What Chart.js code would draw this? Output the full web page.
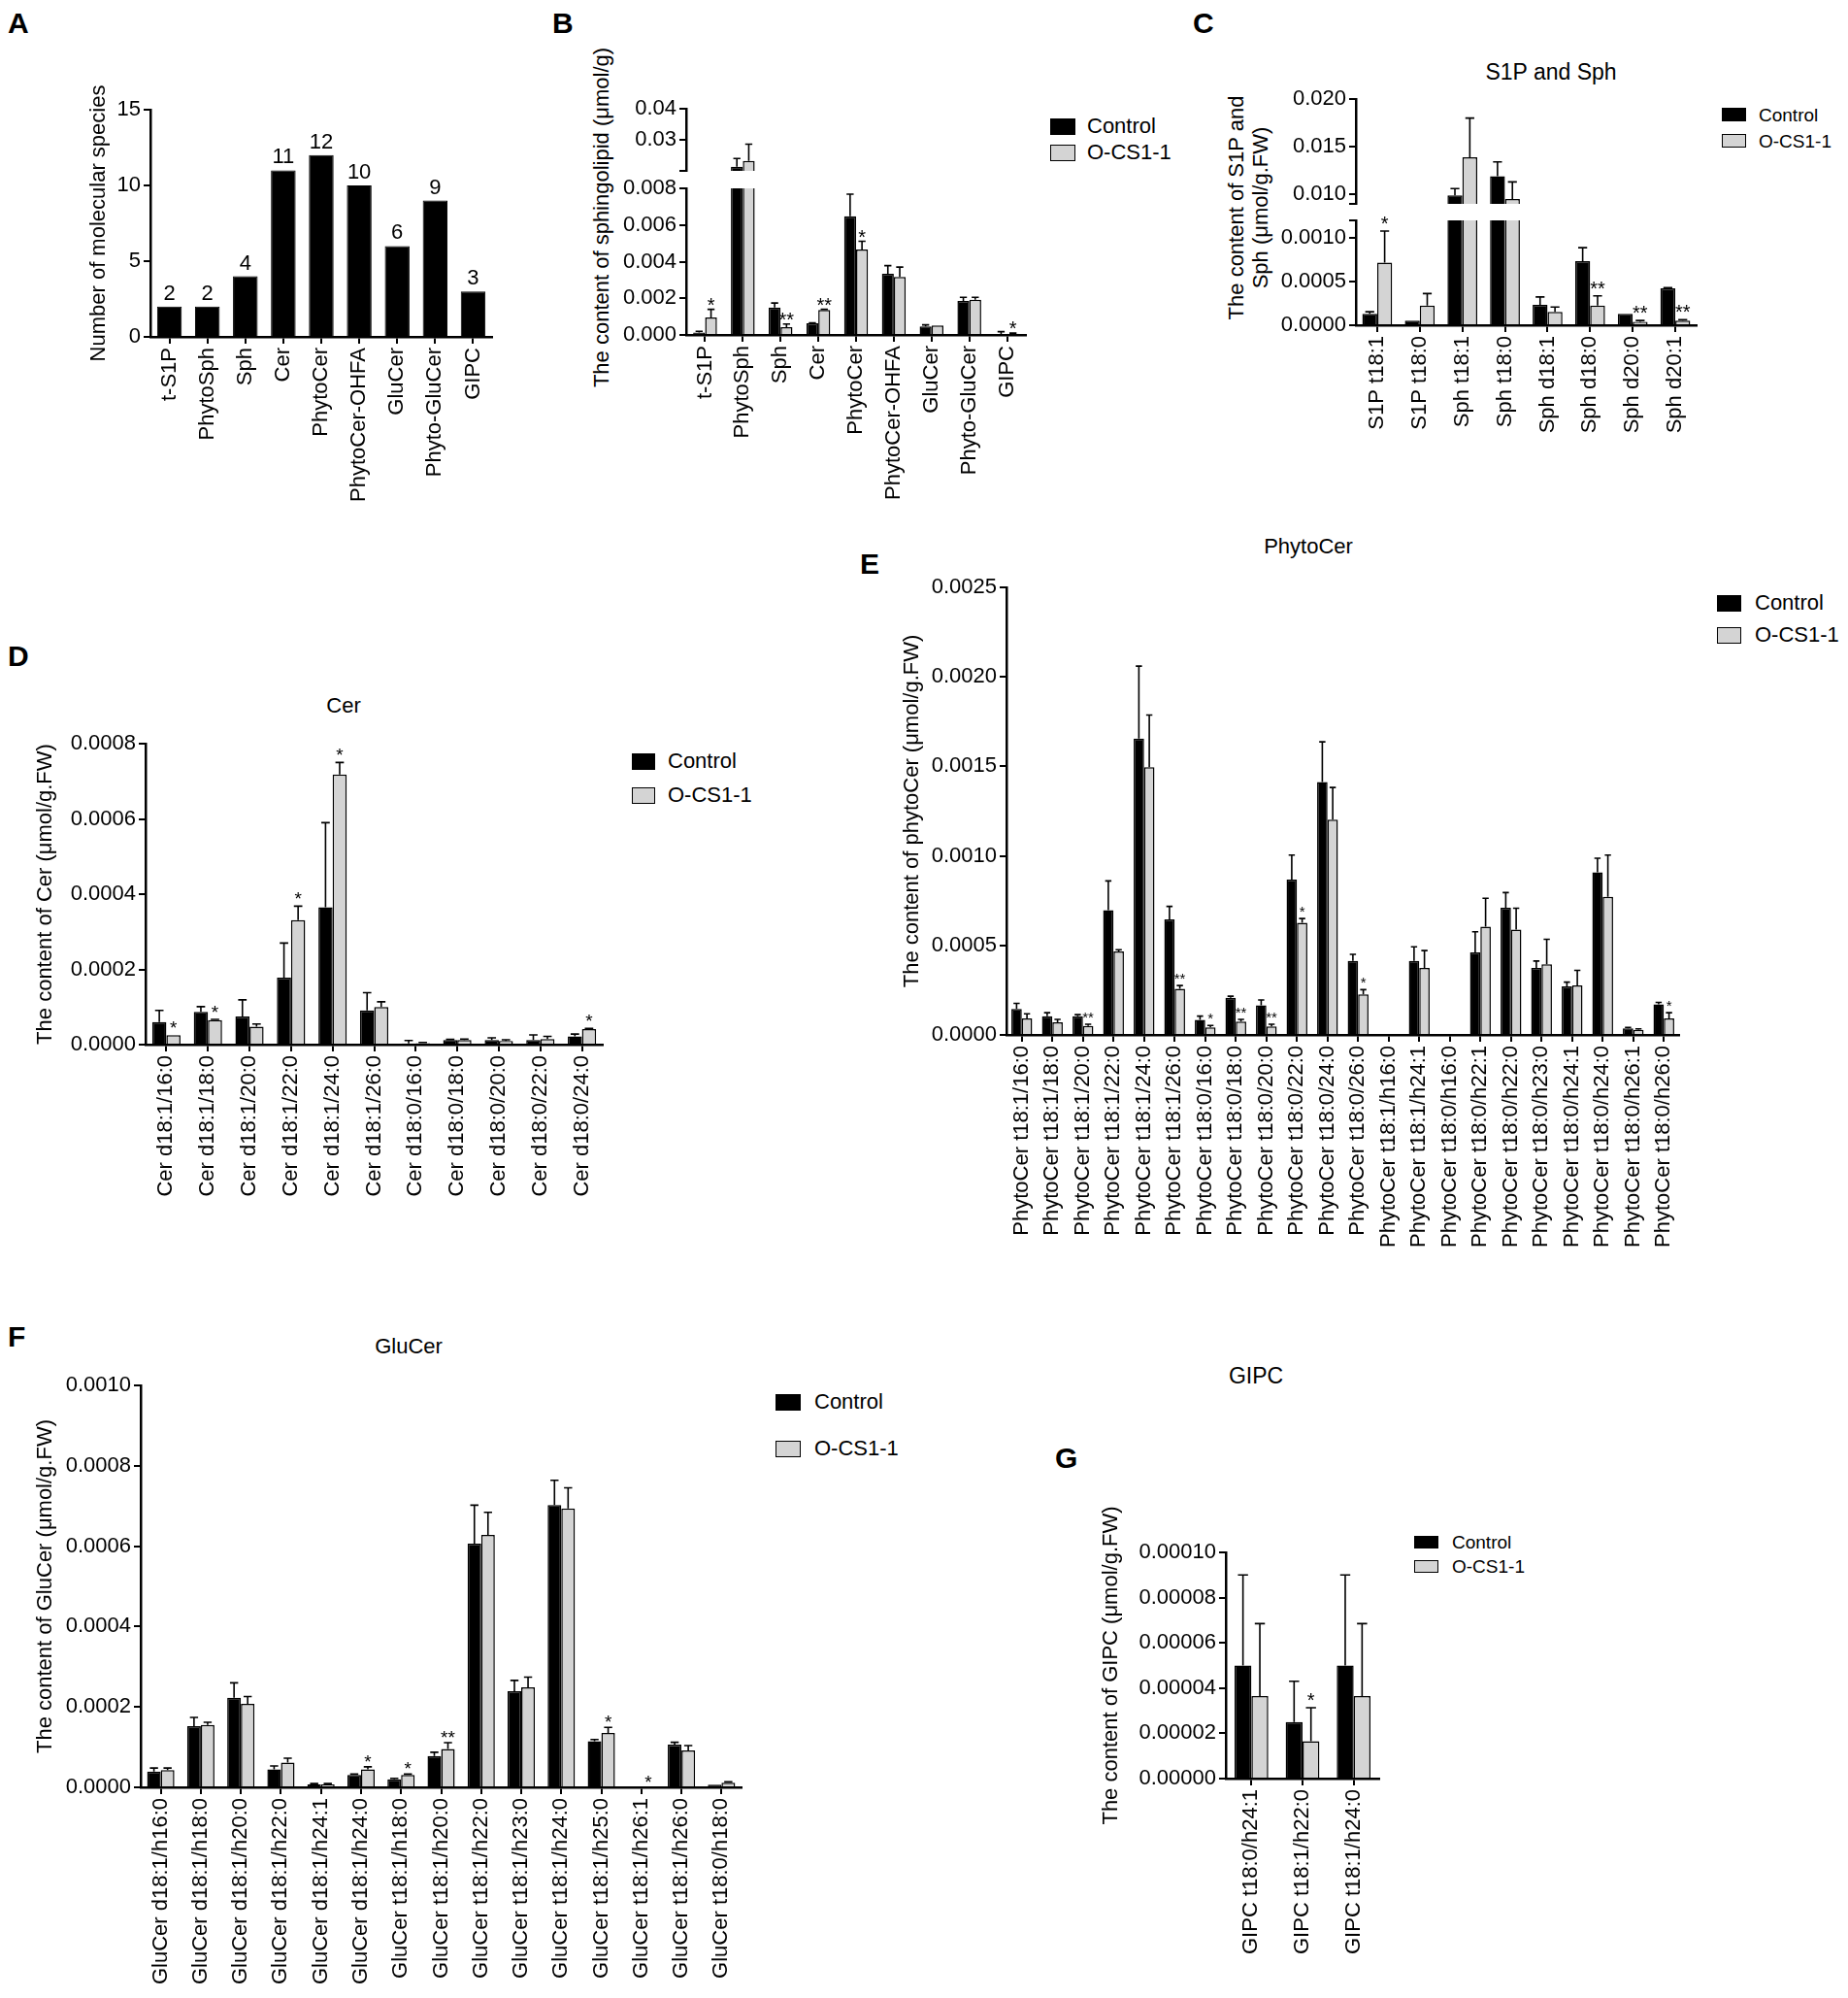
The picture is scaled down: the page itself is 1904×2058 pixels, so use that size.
<!DOCTYPE html>
<html>
<head>
<meta charset="utf-8" />
<title>Sphingolipid profiles</title>
<style>
  html, body { margin: 0; padding: 0; background: #fff; }
  #page {
    position: relative; width: 1904px; height: 2058px; overflow: hidden; background: #fff;
    font-family: "Liberation Sans", Arial, sans-serif; color: #000;
  }
  #page canvas { position: absolute; }
  .txt { position: absolute; white-space: nowrap; }
  .sq { position: absolute; box-sizing: border-box; border: 1.5px solid #000; }
</style>
</head>
<body>
<div id="page"></div>
<script src="https://cdn.jsdelivr.net/npm/chart.js@4.4.1/dist/chart.umd.min.js"></script>
<script>
// ---------- A: number of molecular species ----------
const classLabels = ['t-S1P', 'PhytoSph', 'Sph', 'Cer', 'PhytoCer', 'PhytoCer-OHFA', 'GluCer', 'Phyto-GluCer', 'GIPC'];
const speciesCounts = [2, 2, 4, 11, 12, 10, 6, 9, 3];
const speciesTicks = [0, 5, 10, 15];
const speciesTickLabels = ['0', '5', '10', '15'];

// ---------- B: total content per class (broken axis) ----------
const totalControl = [0.00013, 0.0213, 0.0015, 0.00064, 0.00648, 0.00334, 0.00046, 0.00186, 0.00005];
const totalControlSd = [0.00007, 0.0027, 0.00024, 0.00002, 0.0012, 0.00044, 0.00009, 0.00019, 0.00013];
const totalOcs = [0.00095, 0.0232, 0.00042, 0.00137, 0.00466, 0.00316, 0.00051, 0.00192, 0.00007];
const totalOcsSd = [0.00045, 0.0054, 0.00018, 0.00003, 0.00045, 0.00054, 0, 0.00013, 0.00003];
const totalStars = ['*', '', '**', '**', '*', '', '', '', '*'];
const totalTicksLow = [0, 0.002, 0.004, 0.006, 0.008];
const totalTickLabelsLow = ['0.000', '0.002', '0.004', '0.006', '0.008'];
const totalTicksHigh = [0.02, 0.03, 0.04];
const totalTickLabelsHigh = ['', '0.03', '0.04'];

// ---------- C: S1P and Sph (broken axis) ----------
const sphLabels = ['S1P t18:1', 'S1P t18:0', 'Sph t18:1', 'Sph t18:0', 'Sph d18:1', 'Sph d18:0', 'Sph d20:0', 'Sph d20:1'];
const sphControl = [0.000131, 0.000054, 0.0099, 0.0119, 0.000232, 0.000734, 0.000131, 0.000421];
const sphControlSd = [0.000023, 0, 0.0007, 0.0015, 0.000092, 0.000154, 0, 0.000008];
const sphOcs = [0.000718, 0.000224, 0.0139, 0.0095, 0.000154, 0.000224, 0.000039, 0.000054];
const sphOcsSd = [0.00036, 0.000139, 0.0041, 0.0018, 0.000054, 0.000112, 0.000015, 0.00001];
const sphStars = ['*', '', '', '', '', '**', '**', '**'];
const sphTicksLow = [0, 0.0005, 0.001, 0.0012];
const sphTickLabelsLow = ['0.0000', '0.0005', '0.0010', ''];
const sphTicksHigh = [0.009, 0.010, 0.015, 0.020];
const sphTickLabelsHigh = ['', '0.010', '0.015', '0.020'];

// ---------- D: Cer ----------
const cerLabels = ['Cer d18:1/16:0', 'Cer d18:1/18:0', 'Cer d18:1/20:0', 'Cer d18:1/22:0', 'Cer d18:1/24:0', 'Cer d18:1/26:0',
  'Cer d18:0/16:0', 'Cer d18:0/18:0', 'Cer d18:0/20:0', 'Cer d18:0/22:0', 'Cer d18:0/24:0'];
const cerControl = [0.000060, 0.000087, 0.000075, 0.000178, 0.000365, 0.000091, 0.000003, 0.000012, 0.000012, 0.000012, 0.000022];
const cerControlSd = [0.000031, 0.000014, 0.000044, 0.000092, 0.000225, 0.000047, 0.000008, 0.000002, 0.000006, 0.000014, 0.000006];
const cerOcs = [0.000025, 0.000065, 0.000048, 0.000331, 0.000718, 0.0001, 0.000004, 0.000012, 0.000010, 0.000015, 0.000041];
const cerOcsSd = [0, 0.000002, 0.000007, 0.000037, 0.000032, 0.000014, 0.000002, 0.000003, 0.000003, 0.000007, 0.000002];
const cerStars = ['*', '*', '', '*', '*', '', '', '', '', '', '*'];
const cerTicks = [0, 0.0002, 0.0004, 0.0006, 0.0008];
const cerTickLabels = ['0.0000', '0.0002', '0.0004', '0.0006', '0.0008'];

// ---------- E: PhytoCer ----------
const phytoLabels = ['PhytoCer t18:1/16:0', 'PhytoCer t18:1/18:0', 'PhytoCer t18:1/20:0', 'PhytoCer t18:1/22:0', 'PhytoCer t18:1/24:0',
  'PhytoCer t18:1/26:0', 'PhytoCer t18:0/16:0', 'PhytoCer t18:0/18:0', 'PhytoCer t18:0/20:0', 'PhytoCer t18:0/22:0',
  'PhytoCer t18:0/24:0', 'PhytoCer t18:0/26:0', 'PhytoCer t18:1/h16:0', 'PhytoCer t18:1/h24:1', 'PhytoCer t18:0/h16:0',
  'PhytoCer t18:0/h22:1', 'PhytoCer t18:0/h22:0', 'PhytoCer t18:0/h23:0', 'PhytoCer t18:0/h24:1', 'PhytoCer t18:0/h24:0',
  'PhytoCer t18:0/h26:1', 'PhytoCer t18:0/h26:0'];
const phytoControl = [0.000145, 0.000105, 0.000105, 0.000697, 0.001655, 0.000645, 0.000084, 0.000208, 0.000166, 0.000868, 0.001413,
  0.000413, 0.000005, 0.000413, 0, 0.000461, 0.000711, 0.000374, 0.000271, 0.000908, 0.000037, 0.000171];
const phytoControlSd = [0.000031, 0.000019, 0.000008, 0.000163, 0.000405, 0.000073, 0.000021, 0.000008, 0.000029, 0.000137, 0.000224,
  0.000037, 0, 0.000079, 0, 0.000115, 0.000084, 0.000039, 0.000024, 0.000079, 0.000005, 0.000011];
const phytoOcs = [0.000092, 0.000071, 0.00005, 0.000466, 0.001495, 0.000258, 0.000042, 0.000074, 0.000047, 0.000626, 0.001203,
  0.000226, 0.000005, 0.000374, 0, 0.000605, 0.000589, 0.000395, 0.000276, 0.000771, 0.000029, 0.000092];
const phytoOcsSd = [0.000026, 0.000016, 0.00001, 0.00001, 0.000292, 0.000018, 0.000011, 0.000013, 0.000013, 0.000024, 0.000179,
  0.000027, 0, 0.000097, 0, 0.000158, 0.000119, 0.000139, 0.000085, 0.000234, 0.000005, 0.000032];
const phytoStars = ['', '', '**', '', '', '**', '*', '**', '**', '*', '', '*', '', '', '', '', '', '', '', '', '', '*'];
const phytoTicks = [0, 0.0005, 0.001, 0.0015, 0.002, 0.0025];
const phytoTickLabels = ['0.0000', '0.0005', '0.0010', '0.0015', '0.0020', '0.0025'];

// ---------- F: GluCer ----------
const gluLabels = ['GluCer d18:1/h16:0', 'GluCer d18:1/h18:0', 'GluCer d18:1/h20:0', 'GluCer d18:1/h22:0', 'GluCer d18:1/h24:1',
  'GluCer d18:1/h24:0', 'GluCer t18:1/h18:0', 'GluCer t18:1/h20:0', 'GluCer t18:1/h22:0', 'GluCer t18:1/h23:0',
  'GluCer t18:1/h24:0', 'GluCer t18:1/h25:0', 'GluCer t18:1/h26:1', 'GluCer t18:1/h26:0', 'GluCer t18:0/h18:0'];
const gluControl = [0.0000394, 0.000152, 0.000223, 0.0000447, 0.0000074, 0.0000309, 0.0000202, 0.0000777, 0.000606, 0.000239,
  0.000702, 0.000115, 0, 0.000106, 0.0000064];
const gluControlSd = [0.0000085, 0.000022, 0.000037, 0.0000085, 0.000002, 0.000002, 0.000002, 0.0000095, 0.000096, 0.000027,
  0.000062, 0.000004, 0, 0.000006, 0];
const gluOcs = [0.0000426, 0.000155, 0.000208, 0.0000617, 0.0000074, 0.0000447, 0.0000309, 0.0000957, 0.000628, 0.000249,
  0.000694, 0.000135, 0, 0.0000915, 0.0000117];
const gluOcsSd = [0.0000053, 0.000007, 0.000018, 0.0000106, 0.000002, 0.0000063, 0.000002, 0.0000153, 0.000056, 0.000025,
  0.000051, 0.000014, 0, 0.0000125, 0.000002];
const gluStars = ['', '', '', '', '', '*', '*', '**', '', '', '', '*', '*', '', ''];
const gluTicks = [0, 0.0002, 0.0004, 0.0006, 0.0008, 0.001];
const gluTickLabels = ['0.0000', '0.0002', '0.0004', '0.0006', '0.0008', '0.0010'];

// ---------- G: GIPC ----------
const gipcLabels = ['GIPC t18:0/h24:1', 'GIPC t18:1/h22:0', 'GIPC t18:1/h24:0'];
const gipcControl = [0.00005, 0.000025, 0.00005];
const gipcControlSd = [0.00004, 0.000018, 0.00004];
const gipcOcs = [0.0000365, 0.0000165, 0.0000365];
const gipcOcsSd = [0.000032, 0.0000148, 0.000032];
const gipcStars = ['', '*', ''];
const gipcTicks = [0, 0.00002, 0.00004, 0.00006, 0.00008, 0.0001];
const gipcTickLabels = ['0.00000', '0.00002', '0.00004', '0.00006', '0.00008', '0.00010'];

const seriesNames = ['Control', 'O-CS1-1'];
const FONT = '"Liberation Sans", Arial, sans-serif';
const GREY = '#d4d4d4';

Chart.defaults.font.family = FONT;
Chart.defaults.font.size = 22;
Chart.defaults.color = '#000';

const page = document.getElementById('page');

function text(x, y, str, size, opts = {}) {
  const d = document.createElement('div');
  d.className = 'txt';
  d.textContent = str;
  d.style.fontSize = size + 'px';
  d.style.lineHeight = size + 'px';
  d.style.left = x + 'px';
  d.style.top = (y - size / 2) + 'px';
  if (opts.bold) d.style.fontWeight = 'bold';
  if (opts.center) d.style.transform = 'translateX(-50%)';
  page.appendChild(d);
}

function vtext(x, y, lines, size, lh) {
  const d = document.createElement('div');
  d.className = 'txt';
  d.style.fontSize = size + 'px';
  d.style.lineHeight = lh + 'px';
  d.style.textAlign = 'center';
  d.style.width = '600px';
  d.style.left = (x - 300) + 'px';
  d.style.top = (y - lines.length * lh / 2) + 'px';
  d.style.transform = 'rotate(-90deg)';
  d.style.transformOrigin = '50% 50%';
  d.innerHTML = lines.join('<br>');
  page.appendChild(d);
}

function legend(sqX, w, h, rows, textX, size) {
  [['#000', seriesNames[0]], [GREY, seriesNames[1]]].forEach(([fill, name], i) => {
    const s = document.createElement('div');
    s.className = 'sq';
    s.style.left = sqX + 'px';
    s.style.top = (rows[i] - h / 2) + 'px';
    s.style.width = w + 'px';
    s.style.height = h + 'px';
    s.style.background = fill;
    page.appendChild(s);
    text(textX, rows[i], name, size);
  });
}

// error bars (mean + SD), significance stars and value labels
function overlay(o) {
  return {
    id: 'overlay',
    afterDatasetsDraw(chart) {
      const { ctx, chartArea: a } = chart;
      const y = chart.scales.y;
      ctx.save();
      ctx.beginPath();
      ctx.rect(a.left - 30, a.top - 2, a.right - a.left + 60, a.bottom - a.top + 4);
      ctx.clip();
      ctx.strokeStyle = '#000';
      ctx.lineWidth = 1.6;
      chart.data.datasets.forEach((ds, di) => {
        if (!ds.sd) return;
        chart.getDatasetMeta(di).data.forEach((bar, i) => {
          const sd = ds.sd[i];
          if (!sd) return;
          const y0 = y.getPixelForValue(ds.data[i]);
          const y1 = y.getPixelForValue(ds.data[i] + sd);
          const half = bar.width * 0.3;
          ctx.beginPath();
          ctx.moveTo(bar.x, y0);
          ctx.lineTo(bar.x, y1);
          ctx.moveTo(bar.x - half, y1);
          ctx.lineTo(bar.x + half, y1);
          ctx.stroke();
        });
      });
      ctx.restore();

      ctx.save();
      ctx.fillStyle = '#000';
      ctx.textAlign = 'center';
      ctx.textBaseline = 'alphabetic';
      if (o.stars) {
        const ds = chart.data.datasets[1];
        const meta = chart.getDatasetMeta(1);
        ctx.font = o.starSize + 'px ' + FONT;
        o.stars.forEach((s, i) => {
          if (!s) return;
          const top = ds.data[i] + (ds.sd[i] || 0);
          if (top > y.max) return;
          ctx.fillText(s, meta.data[i].x, y.getPixelForValue(top) + o.starShift);
        });
      }
      if (o.valueLabels) {
        const ds = chart.data.datasets[0];
        ctx.font = '22px ' + FONT;
        chart.getDatasetMeta(0).data.forEach((bar, i) => {
          ctx.fillText(String(ds.data[i]), bar.x, bar.y - 7);
        });
      }
      ctx.restore();
    }
  };
}

function pairSets(ctrl, ctrlSd, ocs, ocsSd) {
  return [
    { label: seriesNames[0], data: ctrl, sd: ctrlSd, backgroundColor: '#000', borderColor: '#000', borderWidth: 1.5, clip: 0 },
    { label: seriesNames[1], data: ocs, sd: ocsSd, backgroundColor: GREY, borderColor: '#000', borderWidth: 1.5, clip: 0 }
  ];
}

// box = canvas [x, y, w, h] on the page, area = plot [left, top, right, bottom] on the page
function barChart(o) {
  const [cx, cy, cw, ch] = o.box;
  const [L, T, R, B] = o.area;
  const showX = o.showX !== false;
  const c = document.createElement('canvas');
  c.width = cw;
  c.height = ch;
  c.style.left = cx + 'px';
  c.style.top = cy + 'px';
  page.appendChild(c);

  const xScale = {
    display: showX,
    grid: { offset: false, drawOnChartArea: false, drawTicks: true, tickLength: 7, color: '#000', lineWidth: 2 },
    border: { display: true, color: '#000', width: 2.5 },
    ticks: { autoSkip: false, minRotation: 90, maxRotation: 90, padding: 4, color: '#000', font: { size: 22 } }
  };
  if (showX) xScale.afterFit = (s) => { s.height = cy + ch - B; };

  return new Chart(c, {
    type: 'bar',
    data: { labels: o.labels, datasets: o.datasets },
    options: {
      responsive: false,
      animation: false,
      devicePixelRatio: 1,
      layout: { padding: { left: 0, top: T - cy, right: cx + cw - R, bottom: showX ? 0 : cy + ch - B } },
      plugins: { legend: { display: false }, tooltip: { enabled: false } },
      datasets: { bar: { categoryPercentage: o.catPct, barPercentage: 1 } },
      scales: {
        x: xScale,
        y: {
          min: o.ticks[0],
          max: o.ticks[o.ticks.length - 1],
          afterBuildTicks: (s) => { s.ticks = o.ticks.map((v) => ({ value: v })); },
          afterFit: (s) => { s.width = L - cx; },
          ticks: { autoSkip: false, padding: 3, color: '#000', font: { size: 22 }, callback: (v, i) => o.tickLabels[i] },
          grid: { drawOnChartArea: false, drawTicks: true, tickLength: 7, color: '#000', lineWidth: 2 },
          border: { display: true, color: '#000', width: 2.5 },
          title: o.yTitle
            ? { display: true, text: o.yTitle, color: '#000', font: { size: 22 }, padding: { top: o.titleX - cx - 13.2, bottom: 0 } }
            : { display: false }
        }
      }
    },
    plugins: [overlay(o)]
  });
}

// ---------- panel A ----------
text(8, 24, 'A', 30, { bold: true });
barChart({
  box: [60, 60, 465, 480], area: [155, 113, 507, 347],
  labels: classLabels,
  datasets: [{ label: 'Number of molecular species', data: speciesCounts, backgroundColor: '#000', borderColor: '#000', borderWidth: 1 }],
  catPct: 0.65, ticks: speciesTicks, tickLabels: speciesTickLabels,
  yTitle: 'Number of molecular species', titleX: 102, valueLabels: true
});

// ---------- panel B ----------
text(569, 24, 'B', 30, { bold: true });
vtext(620, 224, ['The content of sphingolipid (μmol/g)'], 22, 26);
barChart({
  box: [615, 88, 460, 110], area: [707, 112, 1057, 176], showX: false,
  labels: classLabels, datasets: pairSets(totalControl, totalControlSd, totalOcs, totalOcsSd),
  catPct: 0.63, ticks: totalTicksHigh, tickLabels: totalTickLabelsHigh
});
barChart({
  box: [615, 170, 460, 370], area: [707, 194, 1057, 345],
  labels: classLabels, datasets: pairSets(totalControl, totalControlSd, totalOcs, totalOcsSd),
  catPct: 0.63, ticks: totalTicksLow, tickLabels: totalTickLabelsLow,
  stars: totalStars, starSize: 20, starShift: 2
});
legend(1082, 26, 17, [130, 157], 1120, 22);

// ---------- panel C ----------
text(1229, 24, 'C', 30, { bold: true });
text(1598, 74, 'S1P and Sph', 23, { center: true });
vtext(1286, 214, ['The content of S1P and', 'Sph (μmol/g.FW)'], 22, 25);
barChart({
  box: [1310, 80, 460, 150], area: [1397, 102, 1748, 210], showX: false,
  labels: sphLabels, datasets: pairSets(sphControl, sphControlSd, sphOcs, sphOcsSd),
  catPct: 0.7, ticks: sphTicksHigh, tickLabels: sphTickLabelsHigh
});
barChart({
  box: [1310, 203, 460, 270], area: [1397, 227, 1748, 335],
  labels: sphLabels, datasets: pairSets(sphControl, sphControlSd, sphOcs, sphOcsSd),
  catPct: 0.7, ticks: sphTicksLow, tickLabels: sphTickLabelsLow,
  stars: sphStars, starSize: 20, starShift: -1
});
legend(1774, 25, 14, [118, 145], 1812, 19);

// ---------- panel D ----------
text(8, 676, 'D', 30, { bold: true });
text(354, 727, 'Cer', 22, { center: true });
barChart({
  box: [20, 740, 620, 520], area: [150, 766, 621, 1076],
  labels: cerLabels, datasets: pairSets(cerControl, cerControlSd, cerOcs, cerOcsSd),
  catPct: 0.68, ticks: cerTicks, tickLabels: cerTickLabels,
  yTitle: 'The content of Cer (μmol/g.FW)', titleX: 47,
  stars: cerStars, starSize: 19, starShift: -1
});
legend(651, 24, 17, [784, 819], 688, 22);

// ---------- panel E ----------
text(886, 581, 'E', 30, { bold: true });
text(1348, 563, 'PhytoCer', 22, { center: true });
barChart({
  box: [910, 580, 840, 720], area: [1037, 605, 1730, 1066],
  labels: phytoLabels, datasets: pairSets(phytoControl, phytoControlSd, phytoOcs, phytoOcsSd),
  catPct: 0.68, ticks: phytoTicks, tickLabels: phytoTickLabels,
  yTitle: 'The content of phytoCer (μmol/g.FW)', titleX: 940,
  stars: phytoStars, starSize: 15, starShift: -2
});
legend(1769, 25, 17, [621, 654], 1808, 22);

// ---------- panel F ----------
text(8, 1377, 'F', 30, { bold: true });
text(421, 1387, 'GluCer', 22, { center: true });
barChart({
  box: [20, 1400, 765, 658], area: [145, 1427, 764, 1841],
  labels: gluLabels, datasets: pairSets(gluControl, gluControlSd, gluOcs, gluOcsSd),
  catPct: 0.68, ticks: gluTicks, tickLabels: gluTickLabels,
  yTitle: 'The content of GluCer (μmol/g.FW)', titleX: 47,
  stars: gluStars, starSize: 19, starShift: 1
});
legend(799, 26, 17, [1444, 1492], 839, 22);

// ---------- panel G ----------
text(1087, 1502, 'G', 30, { bold: true });
text(1294, 1417, 'GIPC', 23, { center: true });
barChart({
  box: [1120, 1525, 320, 515], area: [1263, 1599, 1421, 1832],
  labels: gipcLabels, datasets: pairSets(gipcControl, gipcControlSd, gipcOcs, gipcOcsSd),
  catPct: 0.66, ticks: gipcTicks, tickLabels: gipcTickLabels,
  yTitle: 'The content of GIPC (μmol/g.FW)', titleX: 1145,
  stars: gipcStars, starSize: 20, starShift: -1
});
legend(1457, 25, 13, [1588, 1613], 1496, 19);
</script>
</body>
</html>
